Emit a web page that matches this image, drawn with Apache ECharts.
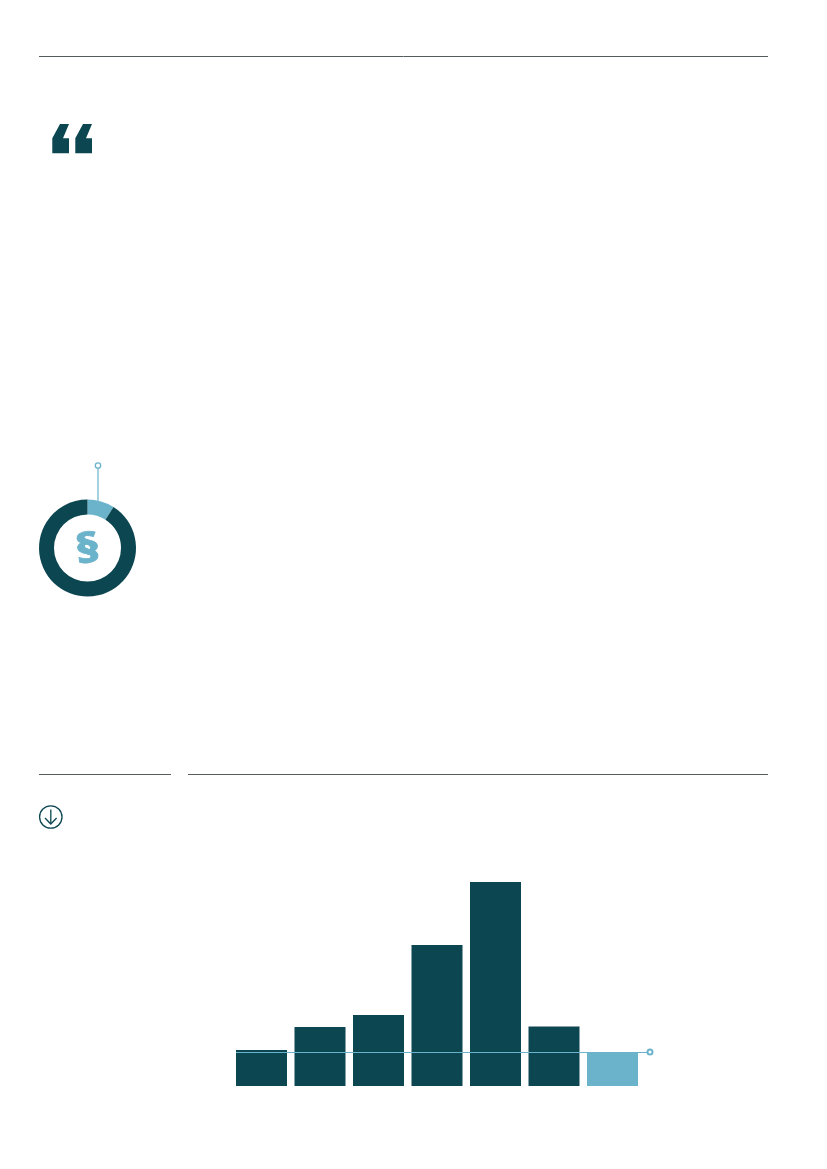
<!DOCTYPE html>
<html>
<head>
<meta charset="utf-8">
<style>html,body{margin:0;padding:0;background:#fff}#c{width:827px;height:1169px}</style>
<script src="https://cdn.jsdelivr.net/npm/echarts@6/dist/echarts.min.js"></script>
</head>
<body>
<div id="c"></div>
<script>
const DARK = '#0b4651', LIGHT = '#6bb3cb', RULE = '#555a5c';
const barCategories = ['1','2','3','4','5','6','7'];
const barValues = [36, 59, 71, 141, 204, 59.5, 34];
const highlightedBar = 6;
const donutNames = ['highlight','rest'];
const donutValues = [9, 91];

const chart = echarts.init(document.getElementById('c'), null, {renderer:'canvas'});
const quote = dx => ({
  type:'polygon', silent:true,
  shape:{points:[[60+dx,124],[69+dx,124],[63+dx,138.3],[69+dx,138.3],[69+dx,153.3],[52.3+dx,153.3],[52.3+dx,138.3]]},
  style:{fill:DARK}
});
const rule = (x1,x2,y) => ({type:'line', silent:true, shape:{x1,y1:y,x2,y2:y}, style:{stroke:RULE,lineWidth:1}});
chart.setOption({
  animation:false,
  backgroundColor:'#fff',
  grid:{left:232.25, top:882, width:409.5, height:204, containLabel:false},
  xAxis:{type:'category', data:barCategories, show:false},
  yAxis:{type:'value', min:0, max:204, show:false},
  series:[
    {
      type:'bar', data:barValues.map((v,i)=>({value:v,itemStyle:{color:i===highlightedBar?LIGHT:DARK}})),
      barWidth:51,
      markLine:{
        silent:true, animation:false,
        symbol:['none','emptyCircle'], symbolSize:5,
        label:{show:false},
        lineStyle:{color:LIGHT,width:1.2,type:'solid'},
        data:[[{x:236,yAxis:barValues[highlightedBar]},{x:650,yAxis:barValues[highlightedBar]}]]
      }
    },
    {
      type:'pie', center:[87.5,548], radius:[33.5,48.5], startAngle:90, clockwise:true,
      label:{show:false}, labelLine:{show:false}, silent:true,
      data:donutNames.map((n,i)=>({name:n,value:donutValues[i],itemStyle:{color:i===0?LIGHT:DARK}}))
    }
  ],
  graphic:[
    rule(39,768,56.5), rule(39,171,774.5), rule(188,768,774.5),
    quote(0), quote(23),
    {type:'line',silent:true,shape:{x1:98,y1:468,x2:98,y2:501},style:{stroke:LIGHT,lineWidth:1.2}},
    {type:'circle',silent:true,shape:{cx:98,cy:465.5,r:2.7},style:{fill:'#fff',stroke:LIGHT,lineWidth:1.3}},
    {type:'text',silent:true,x:88,y:551,scaleX:1.3,scaleY:1.06,rotation:0.12,style:{text:'§',fill:LIGHT,stroke:LIGHT,lineWidth:0.7,font:'800 38px "Open Sans"',textAlign:'center',textVerticalAlign:'middle'}},
    {type:'circle',silent:true,shape:{cx:50.8,cy:817,r:11.2},style:{fill:'none',stroke:DARK,lineWidth:1.3}},
    {type:'polyline',silent:true,shape:{points:[[50.8,809.5],[50.8,824]]},style:{fill:'none',stroke:DARK,lineWidth:1.3}},
    {type:'polyline',silent:true,shape:{points:[[45,818],[50.8,824],[56.6,818]]},style:{fill:'none',stroke:DARK,lineWidth:1.3}}
  ]
});
</script>
</body>
</html>
